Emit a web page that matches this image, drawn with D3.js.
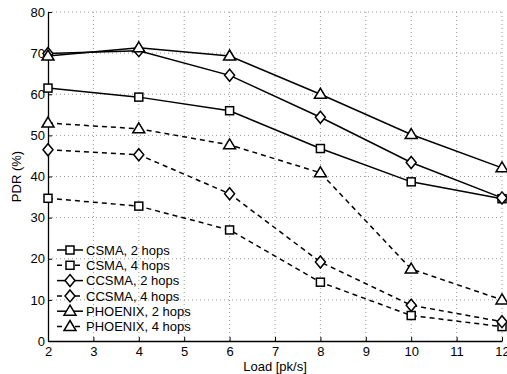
<!DOCTYPE html>
<html>
<head>
<meta charset="utf-8">
<script src="https://cdn.jsdelivr.net/npm/d3@7"></script>
<style>
  body { margin: 0; background: #fff; }
  text { font-family: "Liberation Sans", Arial, sans-serif; fill: #000; }
</style>
</head>
<body>
<svg id="chart"></svg>
<script>
const loads = [2, 4, 6, 8, 10, 12];
const csma2 = [61.5, 59.3, 56.0, 46.8, 38.7, 34.6];
const csma4 = [34.7, 32.8, 27.0, 14.3, 6.2, 3.5];
const ccsma2 = [69.9, 70.6, 64.6, 54.4, 43.4, 34.8];
const ccsma4 = [46.5, 45.3, 35.8, 19.2, 8.7, 4.7];
const phoenix2 = [69.3, 71.3, 69.3, 60.0, 50.2, 42.1];
const phoenix4 = [53.0, 51.6, 47.7, 40.9, 17.5, 10.0];
const xTicks = [2, 3, 4, 5, 6, 7, 8, 9, 10, 11, 12];
const yTicks = [0, 10, 20, 30, 40, 50, 60, 70, 80];

const series = [
    { name: "CSMA, 2 hops", values: csma2, marker: "square", dashed: false },
    { name: "CSMA, 4 hops", values: csma4, marker: "square", dashed: true },
    { name: "CCSMA, 2 hops", values: ccsma2, marker: "diamond", dashed: false },
    { name: "CCSMA, 4 hops", values: ccsma4, marker: "diamond", dashed: true },
    { name: "PHOENIX, 2 hops", values: phoenix2, marker: "triangle", dashed: false },
    { name: "PHOENIX, 4 hops", values: phoenix4, marker: "triangle", dashed: true }
];

const width = 507, height = 374;
const margin = { top: 12, right: 5, bottom: 33, left: 48 };
const w = width - margin.left - margin.right;
const h = height - margin.top - margin.bottom;
const fs = 13;

const svg = d3.select("#chart").attr("width", width).attr("height", height);
const g = svg.append("g").attr("transform", `translate(${margin.left},${margin.top})`);

const x = d3.scaleLinear().domain([2, 12]).range([0, w]);
const y = d3.scaleLinear().domain([0, 80]).range([h, 0]);

// dotted grid
g.append("g").selectAll("line").data(xTicks.slice(1)).join("line")
    .attr("x1", d => x(d)).attr("x2", d => x(d))
    .attr("y1", 0).attr("y2", h)
    .attr("stroke", "#999").attr("stroke-width", 1).attr("stroke-dasharray", "1,3");
g.append("g").selectAll("line").data(yTicks.slice(1)).join("line")
    .attr("x1", 0).attr("x2", w)
    .attr("y1", d => y(d)).attr("y2", d => y(d))
    .attr("stroke", "#999").attr("stroke-width", 1).attr("stroke-dasharray", "1,3");

// axes
const xAxis = g.append("g").attr("transform", `translate(0,${h})`)
    .call(d3.axisBottom(x).tickValues(xTicks).tickSizeInner(-4).tickSizeOuter(0).tickPadding(6));
const yAxis = g.append("g")
    .call(d3.axisLeft(y).tickValues(yTicks).tickSizeInner(-4).tickSizeOuter(0).tickPadding(3));
[xAxis, yAxis].forEach(a => {
    a.attr("font-size", fs).attr("font-family", "Liberation Sans, Arial, sans-serif");
    a.select(".domain").attr("stroke", "#000").attr("stroke-width", 1.3);
    a.selectAll(".tick line").attr("stroke", "#000");
});

svg.append("text")
    .attr("x", margin.left + w / 2).attr("y", 371)
    .attr("text-anchor", "middle").attr("font-size", fs)
    .text("Load [pk/s]");
svg.append("text")
    .attr("transform", `translate(21,${margin.top + h / 2}) rotate(-90)`)
    .attr("text-anchor", "middle").attr("font-size", fs)
    .text("PDR (%)");

function drawMarker(sel, type) {
    if (type === "square") {
        sel.append("rect").attr("x", -4).attr("y", -4).attr("width", 8).attr("height", 8);
    } else if (type === "diamond") {
        sel.append("path").attr("d", "M0,-6L5,0L0,6L-5,0Z");
    } else {
        sel.append("path").attr("d", "M0,-6L6,4L-6,4Z");
    }
    sel.selectAll("rect,path").attr("fill", "#fff").attr("stroke", "#000").attr("stroke-width", 1.5);
}

const line = d3.line().x((d, i) => x(loads[i])).y(d => y(d));

series.forEach(s => {
    g.append("path")
        .datum(s.values)
        .attr("d", line)
        .attr("fill", "none")
        .attr("stroke", "#000")
        .attr("stroke-width", 1.5)
        .attr("stroke-dasharray", s.dashed ? "5,4" : null);
});
series.forEach(s => {
    s.values.forEach((v, i) => {
        const m = g.append("g").attr("transform", `translate(${x(loads[i])},${y(v)})`);
        drawMarker(m, s.marker);
    });
});

// legend
const legend = svg.append("g").attr("transform", "translate(57,250)");
series.forEach((s, i) => {
    const row = legend.append("g").attr("transform", `translate(0,${i * 15.3})`);
    row.append("line")
        .attr("x1", 0).attr("x2", 26).attr("y1", 0).attr("y2", 0)
        .attr("stroke", "#000").attr("stroke-width", 1.5)
        .attr("stroke-dasharray", s.dashed ? "5,4" : null);
    drawMarker(row.append("g").attr("transform", "translate(13,0)"), s.marker);
    row.append("text").attr("x", 29).attr("y", 4.7).attr("font-size", fs).text(s.name);
});
</script>
</body>
</html>
